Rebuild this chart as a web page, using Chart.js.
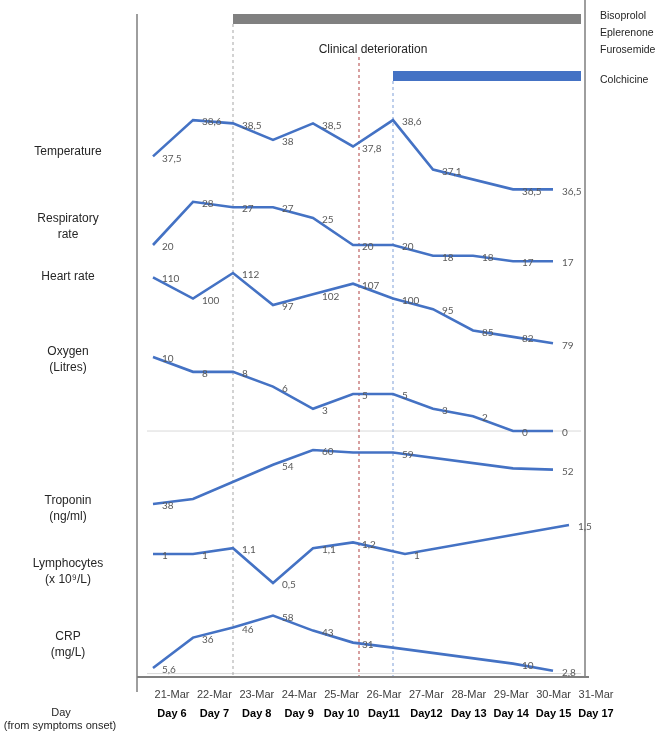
<!DOCTYPE html>
<html lang="en">
<head>
<meta charset="UTF-8">
<title>Clinical course timeline</title>
<script src="https://cdn.jsdelivr.net/npm/chart.js"></script>
<style>
  html, body { margin: 0; padding: 0; background: #fff; }
  #timeline { display: block; }
</style>
</head>
<body>
<canvas id="timeline" width="656" height="736"></canvas>
<script>
// day offset from 21-Mar for each column of measurements
const days = [0, 1, 2, 3, 4, 5, 6, 7, 8, 9, 10];
const dateLabels = ['21-Mar', '22-Mar', '23-Mar', '24-Mar', '25-Mar', '26-Mar', '27-Mar', '28-Mar', '29-Mar', '30-Mar', '31-Mar'];
const dayLabels = ['Day 6', 'Day 7', 'Day 8', 'Day 9', 'Day 10', 'Day11', 'Day12', 'Day 13', 'Day 14', 'Day 15', 'Day 17'];

const temperature = [37.5, 38.6, 38.5, 38, 38.5, 37.8, 38.6, 37.1, null, 36.5, 36.5];
const respiratoryRate = [20, 28, 27, 27, 25, 20, 20, 18, 18, 17, 17];
const heartRate = [110, 100, 112, 97, 102, 107, 100, 95, 85, 82, 79];
const oxygen = [10, 8, 8, 6, 3, 5, 5, 3, 2, 0, 0];
const troponin = [38, 40, null, 54, 60, 59, 59, null, null, 52.5, 52];
const troponinNoLabel = [1, 5, 9];
const lymphoDays = [0, 1, 2, 3, 4, 5, 6.3, 10.4];
const lymphocytes = [1, 1, 1.1, 0.5, 1.1, 1.2, 1, 1.5];
const crp = [5.6, 36, 46, 58, 43, 31, 26, null, null, 10, 2.8];
const crpNoLabel = [6];

// treatments: row 1 = Bisoprolol/Eplerenone/Furosemide, row 2 = Colchicine
const treatmentNames = [['Bisoprolol', 'Eplerenone', 'Furosemide'], ['Colchicine']];
const treatmentStart = [2, 6];
const treatmentEnd = [10.7, 10.7];
// treatment start, clinical deterioration, colchicine start
const eventDays = [2, 5.15, 6];

const rowNames = [['Temperature'], ['Respiratory', 'rate'], ['Heart rate'], ['Oxygen', '(Litres)'],
                  ['Troponin', '(ng/ml)'], ['Lymphocytes', '(x 10\u2079/L)'], ['CRP', '(mg/L)']];

const FONT = '"Liberation Sans", Arial, sans-serif';
const BLUE = '#4472C4';

function pts(xs, ys) {
    return xs.map((x, i) => ({ x: x, y: ys[i] }));
}

function series(axis, xs, ys, noLabel) {
    return {
        data: pts(xs, ys),
        yAxisID: axis,
        borderColor: BLUE,
        borderWidth: 2.6,
        pointRadius: 0,
        tension: 0,
        spanGaps: true,
        valueLabels: true,
        noLabel: noLabel || []
    };
}

function treatment(i, color) {
    return {
        data: [{ x: treatmentStart[i], y: i + 1 }, { x: treatmentEnd[i], y: i + 1 }],
        yAxisID: 'yT',
        borderColor: color,
        borderWidth: 10,
        borderCapStyle: 'butt',
        pointRadius: 0
    };
}

const hiddenY = (min, max, reverse) => ({ type: 'linear', display: false, min: min, max: max, reverse: !!reverse });

// frame, zero lines and event markers, behind the curves
const framePlugin = {
    id: 'frame',
    beforeDatasetsDraw(chart) {
        const { ctx, chartArea, scales } = chart;
        const x = scales.x;
        const rightX = x.getPixelForValue(10.8);
        ctx.save();

        // light zero lines for oxygen and CRP
        ctx.strokeStyle = '#d9d9d9';
        ctx.lineWidth = 1;
        ['yO', 'yC'].forEach(id => {
            const y = scales[id].getPixelForValue(0);
            ctx.beginPath();
            ctx.moveTo(x.getPixelForValue(-0.15), y);
            ctx.lineTo(x.getPixelForValue(10.7), y);
            ctx.stroke();
        });

        // dashed event lines
        const tops = [scales.yT.getPixelForValue(1) + 5, 57, scales.yT.getPixelForValue(2) + 5];
        const colors = ['#a6a6a6', '#b04040', '#7f9fd8'];
        ctx.setLineDash([3, 3]);
        ctx.lineWidth = 1;
        eventDays.forEach((d, i) => {
            const px = x.getPixelForValue(d);
            ctx.strokeStyle = colors[i];
            ctx.beginPath();
            ctx.moveTo(px, tops[i]);
            ctx.lineTo(px, chartArea.bottom);
            ctx.stroke();
        });
        ctx.setLineDash([]);

        // box
        ctx.strokeStyle = '#7f7f7f';
        ctx.lineWidth = 1.5;
        ctx.beginPath();
        ctx.moveTo(chartArea.left, 14);
        ctx.lineTo(chartArea.left, 692);
        ctx.moveTo(rightX, 0);
        ctx.lineTo(rightX, chartArea.bottom);
        ctx.stroke();
        ctx.lineWidth = 2;
        ctx.beginPath();
        ctx.moveTo(chartArea.left, chartArea.bottom);
        ctx.lineTo(rightX + 4, chartArea.bottom);
        ctx.stroke();
        ctx.restore();
    },
    afterDatasetsDraw(chart) {
        const ctx = chart.ctx;
        ctx.save();
        ctx.font = '10px Lato, sans-serif';
        ctx.fillStyle = '#595959';
        ctx.textAlign = 'left';
        ctx.textBaseline = 'middle';
        chart.data.datasets.forEach((ds, di) => {
            if (!ds.valueLabels) return;
            chart.getDatasetMeta(di).data.forEach((el, i) => {
                const v = ds.data[i].y;
                if (v === null || ds.noLabel.includes(i)) return;
                ctx.fillText(String(v).replace('.', ','), el.x + 9, el.y + 2);
            });
        });
        ctx.restore();
    },
    afterDraw(chart) {
        const { ctx, scales } = chart;
        const rightX = scales.x.getPixelForValue(10.8);
        ctx.save();
        ctx.fillStyle = '#262626';
        ctx.textBaseline = 'middle';

        // row names on the left
        ctx.font = '12px ' + FONT;
        ctx.textAlign = 'center';
        const rowY = [152, 219, 277, 352, 501, 564, 637];
        rowNames.forEach((lines, r) => {
            lines.forEach((t, k) => ctx.fillText(t, 68, rowY[r] + k * 15.5));
        });

        // event caption
        ctx.fillText('Clinical deterioration', scales.x.getPixelForValue(eventDays[1]) + 14, 50);

        ctx.font = '11px ' + FONT;
        ctx.fillText('Day', 61, 713);
        ctx.fillText('(from symptoms onset)', 60, 726);

        // treatment names on the right
        ctx.font = '10.5px ' + FONT;
        ctx.textAlign = 'left';
        const nameY = [16, 80];
        treatmentNames.forEach((names, r) => {
            names.forEach((t, k) => ctx.fillText(t, rightX + 15, nameY[r] + k * 17));
        });
        ctx.restore();
    }
};

const bottomAxis = (labels, bold, weight, height, pad) => ({
    type: 'linear',
    position: 'bottom',
    weight: weight,
    min: -0.8255,
    max: 10.802,
    grid: { display: false, drawTicks: false },
    border: { display: false },
    afterBuildTicks: s => { s.ticks = days.map(v => ({ value: v })); },
    afterFit: s => { s.height = height; },
    ticks: {
        autoSkip: false,
        maxRotation: 0,
        padding: pad,
        color: bold ? '#000' : '#404040',
        font: { family: FONT, size: 11, weight: bold ? 'bold' : 'normal' },
        callback: v => labels[v]
    }
});

new Chart(document.getElementById('timeline'), {
    type: 'line',
    data: {
        datasets: [
            treatment(0, '#808080'),
            treatment(1, BLUE),
            series('yTemp', days, temperature),
            series('yRR', days, respiratoryRate),
            series('yHR', days, heartRate),
            series('yO', days, oxygen),
            series('yTrop', days, troponin, troponinNoLabel),
            series('yL', lymphoDays, lymphocytes),
            series('yC', days, crp, crpNoLabel)
        ]
    },
    options: {
        responsive: false,
        animation: false,
        layout: { padding: { left: 137, right: 26, top: 0, bottom: 11 } },
        plugins: { legend: { display: false }, tooltip: { enabled: false } },
        scales: {
            x: { type: 'linear', display: false, min: -0.4, max: 11.925 },
            xd: bottomAxis(dateLabels, false, 0, 22, 11),
            xday: bottomAxis(dayLabels, true, 1, 26, 8),
            yT: hiddenY(0.667, 12.54, true),
            yTemp: hiddenY(21.72, 42.24),
            yRR: hiddenY(-60, 65.37),
            yHR: hiddenY(-77.7, 240.2),
            yO: hiddenY(-33.24, 58.25),
            yTrop: hiddenY(-32.65, 243.7),
            yL: hiddenY(-1.12, 10.55),
            yC: hiddenY(-3.4, 673.6)
        }
    },
    plugins: [framePlugin]
});
</script>
</body>
</html>
